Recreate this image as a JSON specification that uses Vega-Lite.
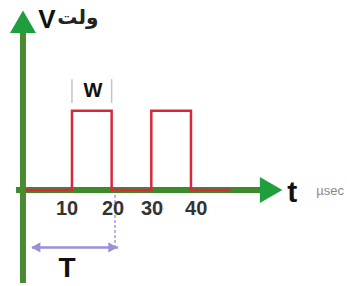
{
  "$schema": "https://vega.github.io/schema/vega-lite/v6.json",
  "width": 347,
  "height": 286,
  "padding": 0,
  "autosize": {"type": "fit", "contains": "padding"},
  "background": "white",
  "view": {"stroke": null},
  "datasets": {
    "pulse": [
      {"x": -2.35, "y": 0, "o": 0},
      {"x": 10, "y": 0, "o": 1},
      {"x": 10, "y": 1, "o": 2},
      {"x": 20, "y": 1, "o": 3},
      {"x": 20, "y": 0, "o": 4},
      {"x": 30, "y": 0, "o": 5},
      {"x": 30, "y": 1, "o": 6},
      {"x": 40, "y": 1, "o": 7},
      {"x": 40, "y": 0, "o": 8},
      {"x": 50, "y": 0, "o": 9}
    ],
    "haxis": [{"x": -4.1, "x2": 57.9, "y": 0}],
    "vaxis": [{"x": -2.35, "y": -1.175, "y2": 2.02}],
    "harrow": [{"x": 60.2, "y": 0}],
    "varrow": [{"x": -2.35, "y": 2.125}],
    "wmarks": [{"x": 10, "y": 1.1, "y2": 1.4}, {"x": 20, "y": 1.1, "y2": 1.4}],
    "ticklabels": [
      {"x": 8.76, "y": -0.2375, "label": "10"},
      {"x": 20.35, "y": -0.2375, "label": "20"},
      {"x": 30.2, "y": -0.2375, "label": "30"},
      {"x": 41.3, "y": -0.2375, "label": "40"}
    ],
    "bigtext": [
      {"x": 15.3, "y": 1.25, "label": "W", "s": 20},
      {"x": 3.7, "y": 2.15, "label": "V", "s": 26},
      {"x": 65.5, "y": -0.04, "label": "t", "s": 30},
      {"x": 8.76, "y": -1.0, "label": "T", "s": 28}
    ],
    "arabic": [{"x": 11.5, "y": 2.17, "label": "ولت"}],
    "unit": [{"x": 75.05, "y": -0.0125, "label": "µsec"}],
    "tdash": [{"x": 20.85, "y": -0.0625, "y2": -0.725}],
    "tline": [{"x": -0.08, "x2": 21.6, "y": -0.725}],
    "tleft": [{"x": 0.9, "y": -0.725}],
    "tright": [{"x": 20.3, "y": -0.725}]
  },
  "encoding": {
    "x": {"field": "x", "type": "quantitative", "scale": {"domain": [-8.14, 79.33], "nice": false, "zero": false}, "axis": null},
    "y": {"field": "y", "type": "quantitative", "scale": {"domain": [-1.175, 2.4], "nice": false, "zero": false}, "axis": null}
  },
  "layer": [
    {
      "data": {"name": "tdash"},
      "mark": {"type": "rule", "color": "#a99bd8", "strokeWidth": 1.5, "strokeDash": [3, 2]},
      "encoding": {"y2": {"field": "y2"}}
    },
    {
      "data": {"name": "tline"},
      "mark": {"type": "rule", "color": "#9d8fd6", "strokeWidth": 2.5},
      "encoding": {"x2": {"field": "x2"}}
    },
    {
      "data": {"name": "tleft"},
      "mark": {"type": "point", "shape": "triangle-left", "filled": true, "color": "#9d8fd6", "size": 110, "opacity": 1}
    },
    {
      "data": {"name": "tright"},
      "mark": {"type": "point", "shape": "triangle-right", "filled": true, "color": "#9d8fd6", "size": 110, "opacity": 1}
    },
    {
      "data": {"name": "wmarks"},
      "mark": {"type": "rule", "color": "#c4c4c4", "strokeWidth": 1.5},
      "encoding": {"y2": {"field": "y2"}}
    },
    {
      "data": {"name": "haxis"},
      "mark": {"type": "rule", "color": "#3c8a2c", "strokeWidth": 6},
      "encoding": {"x2": {"field": "x2"}}
    },
    {
      "data": {"name": "pulse"},
      "mark": {"type": "line", "color": "#d42a3c", "strokeWidth": 2.5},
      "encoding": {"order": {"field": "o"}}
    },
    {
      "data": {"name": "vaxis"},
      "mark": {"type": "rule", "color": "#4a8a30", "strokeWidth": 6},
      "encoding": {"y2": {"field": "y2"}}
    },
    {
      "data": {"name": "harrow"},
      "mark": {"type": "point", "shape": "triangle-right", "filled": true, "color": "#1f9e3e", "size": 676, "opacity": 1}
    },
    {
      "data": {"name": "varrow"},
      "mark": {"type": "point", "shape": "triangle-up", "filled": true, "color": "#1f9e3e", "size": 676, "opacity": 1}
    },
    {
      "data": {"name": "ticklabels"},
      "mark": {"type": "text", "font": "Liberation Sans", "fontWeight": "bold", "fontSize": 20, "color": "#333333", "align": "center", "baseline": "middle"},
      "encoding": {"text": {"field": "label"}}
    },
    {
      "data": {"name": "bigtext"},
      "mark": {"type": "text", "font": "Liberation Sans", "fontWeight": "bold", "color": "#111111", "align": "center", "baseline": "middle"},
      "encoding": {"text": {"field": "label"}, "size": {"field": "s", "type": "quantitative", "scale": null}}
    },
    {
      "data": {"name": "arabic"},
      "mark": {"type": "text", "font": "DejaVu Sans", "fontWeight": "bold", "fontSize": 20, "color": "#222222", "align": "center", "baseline": "middle"},
      "encoding": {"text": {"field": "label"}}
    },
    {
      "data": {"name": "unit"},
      "mark": {"type": "text", "font": "Liberation Sans", "fontSize": 13, "color": "#8a8a8a", "align": "center", "baseline": "middle"},
      "encoding": {"text": {"field": "label"}}
    }
  ]
}
